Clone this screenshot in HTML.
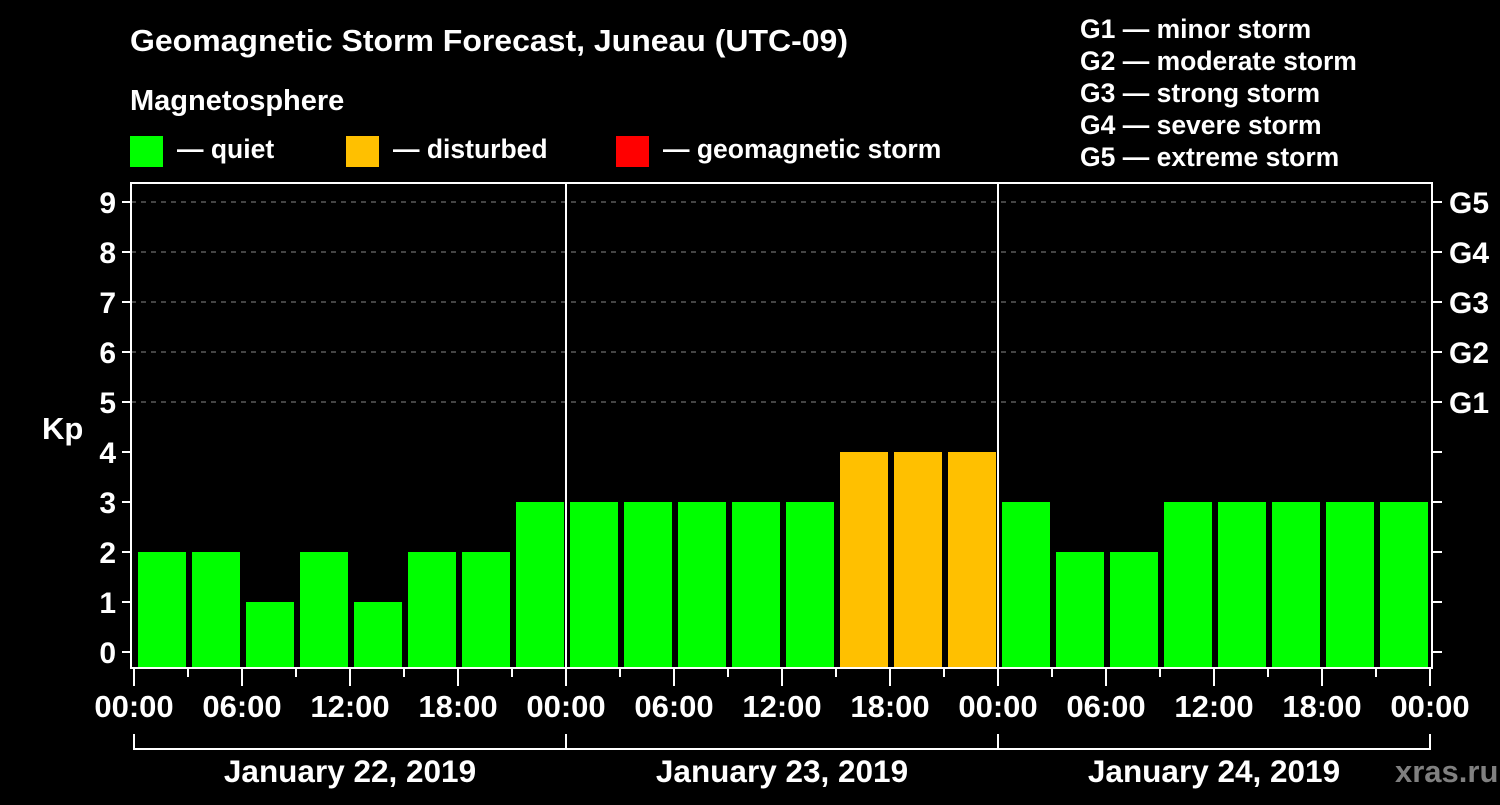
<!DOCTYPE html>
<html><head><meta charset="utf-8"><style>
body{margin:0;background:#000;width:1500px;height:800px;overflow:hidden}
svg text{font-family:"Liberation Sans",sans-serif;font-weight:bold;fill:#fff}
</style></head><body>
<svg id="c" width="1500" height="800">
<text x="130" y="51" font-size="31" textLength="718" lengthAdjust="spacingAndGlyphs">Geomagnetic Storm Forecast, Juneau (UTC-09)</text>
<text x="130" y="110" font-size="29">Magnetosphere</text>
<rect x="130" y="136" width="33" height="31" fill="#00ff00"/>
<text x="177" y="158" font-size="26.5">— quiet</text>
<rect x="346" y="136" width="33" height="31" fill="#ffc000"/>
<text x="393" y="158" font-size="26.5">— disturbed</text>
<rect x="616" y="136" width="33" height="31" fill="#ff0000"/>
<text x="663" y="158" font-size="26.5">— geomagnetic storm</text>
<g font-size="26.5">
<text x="1080" y="38">G1 — minor storm</text>
<text x="1080" y="70">G2 — moderate storm</text>
<text x="1080" y="102">G3 — strong storm</text>
<text x="1080" y="134">G4 — severe storm</text>
<text x="1080" y="166">G5 — extreme storm</text>
</g>
<text x="42" y="439" font-size="31">Kp</text>
<text x="1395" y="782" font-size="31" style="fill:#808080">xras.ru</text>
<g id="g"></g>
</svg>
<script>
const kpValues=[2,2,1,2,1,2,2,3, 3,3,3,3,3,4,4,4, 3,2,2,3,3,3,3,3];
const dayLabels=["January 22, 2019","January 23, 2019","January 24, 2019"];
const hourLabels=["00:00","06:00","12:00","18:00"];
const gLabels=["G1","G2","G3","G4","G5"];
const NS="http://www.w3.org/2000/svg";
const g=document.getElementById('g');
const X0=134,SLOT=54,L=131,R=1432,T=183,B=668;
const yS=v=>652-50*v;
const xS=i=>X0+SLOT*i;
function mk(t,a,txt){const e=document.createElementNS(NS,t);for(const k in a)e.setAttribute(k,a[k]);if(txt!=null)e.textContent=txt;g.appendChild(e);return e;}
for(let v=0;v<=9;v++){
 const y=yS(v);
 if(v>=5){const l=mk('line',{x1:L,x2:R,y1:y,y2:y,stroke:'#888','stroke-dasharray':'5,5','stroke-width':1});
 }
 const t1=mk('line',{x1:122,x2:L,y1:y,y2:y,stroke:'#fff','stroke-width':2});
 
 const t2=mk('line',{x1:R,x2:1442,y1:y,y2:y,stroke:'#fff','stroke-width':2});
 
 const tl=mk('text',{x:116,y:y+11,'font-size':30,'text-anchor':'end'},String(v));
 
 if(v>=5){const gl=mk('text',{x:1449,y:y+11,'font-size':30},gLabels[v-5]);
 }
}
kpValues.forEach((v,i)=>{
 const col=v>=5?'#ff0000':(v>=4?'#ffc000':'#00ff00');
 const b=mk('rect',{x:xS(i)+4,y:yS(v),width:48,height:B-yS(v),fill:col});
 
});
for(let d=1;d<3;d++){const l=mk('line',{x1:xS(d*8),x2:xS(d*8),y1:T,y2:B,stroke:'#fff','stroke-width':2});
 }
const fr=mk('rect',{x:L,y:T,width:R-L,height:B-T,fill:'none',stroke:'#fff','stroke-width':2});

for(let i=0;i<=24;i++){
 const x=xS(i);
 const t=mk('line',{x1:x,x2:x,y1:B,y2:i%2==0?686:677,stroke:'#fff','stroke-width':2});
 
 if(i%2==0){const tl=mk('text',{x:x,y:717,'font-size':31,'text-anchor':'middle'},hourLabels[(i/2)%4]);
 }
}
dayLabels.forEach((d,k)=>{
 const x1=xS(k*8),x2=xS(k*8+8);
 const p=mk('path',{d:`M${x1},734V749H${x2}`+(k==2?'V734':''),fill:'none',stroke:'#fff','stroke-width':2});
 
 if(k<2){const v=mk('line',{x1:x2,x2:x2,y1:734,y2:749,stroke:'#fff','stroke-width':2});
 }
 const t=mk('text',{x:(x1+x2)/2,y:782,'font-size':31.5,'text-anchor':'middle'},d);
 
});
</script>
</body></html>
